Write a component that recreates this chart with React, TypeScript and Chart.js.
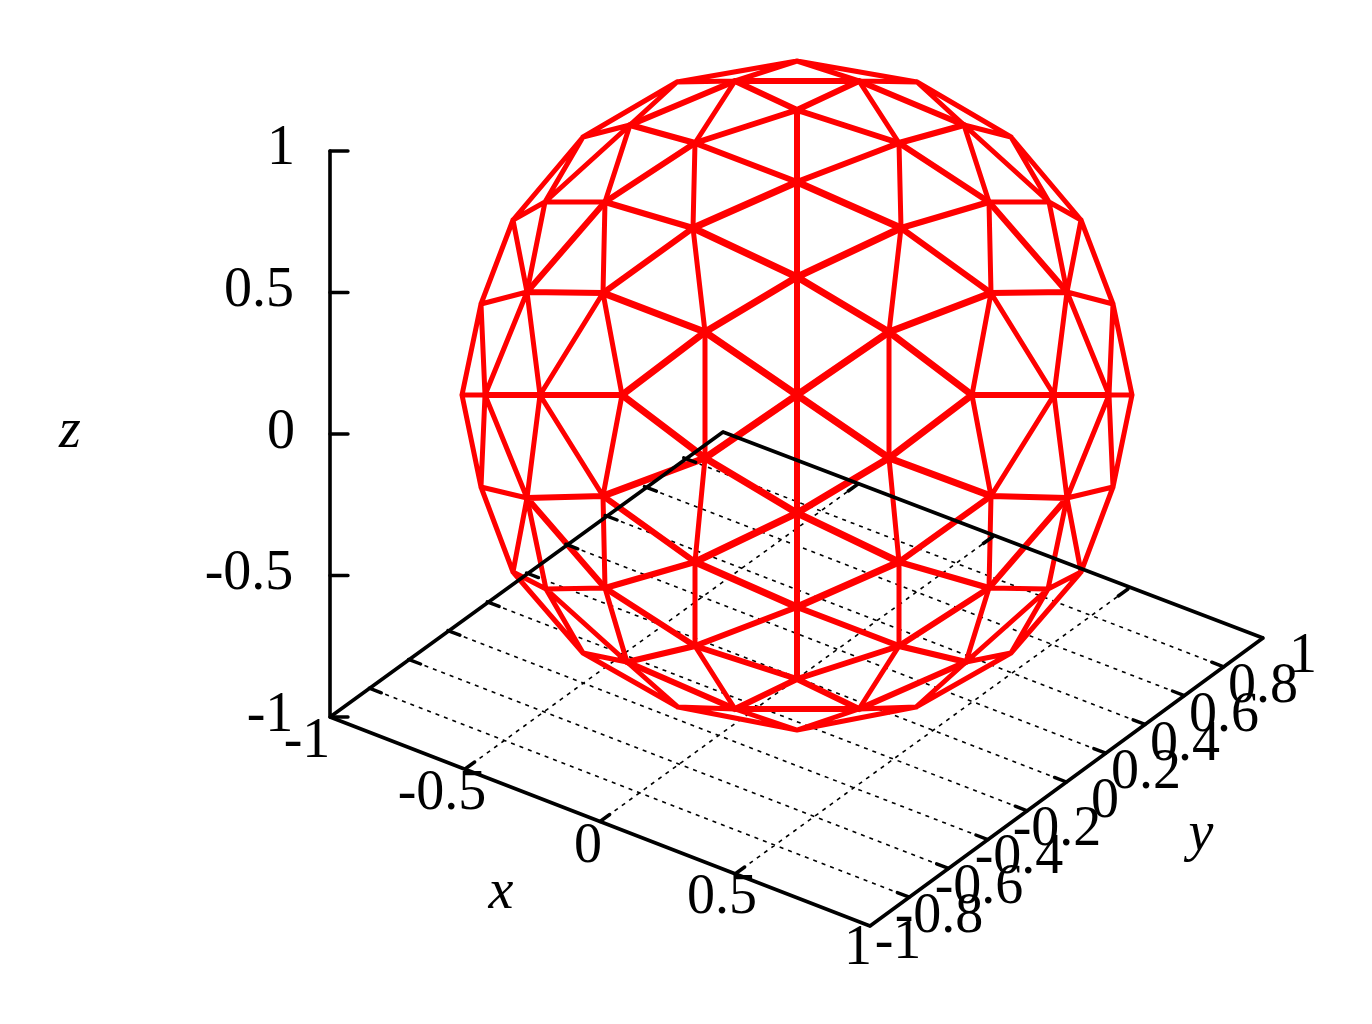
import React, { useEffect, useRef } from "react";
import { Chart, registerables } from "chart.js";

Chart.register(...registerables);

const vertexX = [
  797, 677, 735, 917, 859, 583, 630, 695, 797, 899, 964, 1011, 513, 545, 605, 693, 797, 901, 989, 1049, 1081,
  481, 527, 603, 705, 797, 889, 991, 1067, 1113, 462, 485, 540, 622, 797, 972, 1054, 1109, 1132,
  481, 527, 603, 705, 797, 889, 991, 1067, 1113, 513, 546, 605, 695, 797, 899, 989, 1048, 1081,
  583, 627, 695, 797, 899, 966, 1011, 678, 735, 859, 916, 797,
];
const vertexY = [
  61, 82, 81, 82, 81, 137, 125, 143, 110, 143, 125, 137, 220, 202, 202, 228, 182, 228, 202, 202, 220,
  304, 292, 293, 332, 277, 332, 293, 292, 304, 395, 395, 395, 395, 395, 395, 395, 395, 395,
  487, 498, 496, 458, 513, 458, 496, 498, 487, 572, 589, 588, 562, 607, 562, 588, 589, 572,
  653, 662, 646, 679, 646, 662, 653, 707, 709, 709, 707, 730,
];

const heavyEdges = [
  [15, 16], [15, 25], [23, 24], [24, 25], [24, 33], [24, 34],
  [17, 16], [17, 25], [27, 26], [26, 25], [26, 35], [26, 34],
  [51, 52], [51, 43], [41, 42], [42, 43], [42, 33], [42, 34],
  [53, 52], [53, 43], [45, 44], [44, 43], [44, 35], [44, 34],
];
const mediumEdges = [
  [2, 4], [2, 6], [6, 7], [2, 8], [14, 15], [14, 7], [7, 8], [7, 16], [15, 23], [22, 23], [14, 22], [31, 32], [32, 33], [25, 34], [16, 25], [8, 16],
  [4, 10], [10, 9], [4, 8], [18, 17], [18, 9], [9, 8], [9, 16], [17, 27], [28, 27], [18, 28], [37, 36], [36, 35],
  [65, 66], [65, 58], [58, 59], [65, 60], [50, 51], [50, 59], [59, 60], [59, 52], [51, 41], [40, 41], [50, 40], [34, 43], [43, 52], [52, 60],
  [66, 62], [62, 61], [66, 60], [54, 53], [54, 61], [61, 60], [61, 52], [53, 45], [46, 45], [54, 46],
];
const lightEdges = [
  [0, 1], [0, 2], [1, 2], [1, 5], [1, 6], [2, 7], [5, 6], [5, 12], [5, 13], [6, 13], [6, 14], [12, 13], [12, 21], [12, 22], [13, 14], [13, 22], [14, 23], [7, 15], [21, 22], [21, 30], [21, 31], [22, 31], [22, 32], [23, 32], [23, 33], [24, 15], [30, 31], [24, 42], [26, 44],
  [0, 3], [0, 4], [3, 4], [3, 11], [3, 10], [4, 9], [11, 10], [11, 20], [11, 19], [10, 19], [10, 18], [20, 19], [20, 29], [20, 28], [19, 18], [19, 28], [18, 27], [9, 17], [29, 28], [29, 38], [29, 37], [28, 37], [28, 36], [27, 36], [27, 35], [26, 17], [38, 37],
  [68, 64], [68, 65], [64, 65], [64, 57], [64, 58], [65, 59], [57, 58], [57, 48], [57, 49], [58, 49], [58, 50], [48, 49], [48, 39], [48, 40], [49, 50], [49, 40], [50, 41], [59, 51], [39, 40], [30, 39], [39, 31], [40, 31], [40, 32], [41, 32], [41, 33], [42, 51],
  [68, 67], [68, 66], [67, 66], [67, 63], [67, 62], [66, 61], [63, 62], [63, 56], [63, 55], [62, 55], [62, 54], [56, 55], [56, 47], [56, 46], [55, 54], [55, 46], [54, 45], [61, 53], [47, 46], [38, 47], [47, 37], [46, 37], [46, 36], [45, 36], [45, 35], [44, 53],
];

const axisLines = [
  [330, 151, 330, 717], [330, 717, 870, 926], [870, 926, 1263, 638], [330, 717, 723, 432], [723, 432, 1263, 638],
];
const zTicks = [
  [330, 151, 348, 151], [330, 292.5, 348, 292.5], [330, 434, 348, 434], [330, 575.5, 348, 575.5], [330, 717, 348, 717],
];
const xGrid = [
  [465, 769, 858, 484], [600, 821.5, 993, 536.5], [735, 874, 1128, 589],
];
const yGrid = [
  [909.3, 897.2, 369.3, 688.2], [948.6, 868.4, 408.6, 659.4], [987.9, 839.6, 447.9, 630.6],
  [1027.2, 810.8, 487.2, 601.8], [1066.5, 782, 526.5, 573], [1105.8, 753.2, 565.8, 544.2],
  [1145.1, 724.4, 605.1, 515.4], [1184.4, 695.6, 644.4, 486.6], [1223.7, 666.8, 683.7, 457.8],
];
const gridTicks = [
  [465, 769, 474.7, 762], [858, 484, 848.3, 491], [600, 821.5, 609.7, 814.5], [993, 536.5, 983.3, 543.5], [735, 874, 744.7, 867], [1128, 589, 1118.3, 596],
  [909.3, 897.2, 897.3, 892.6], [369.3, 688.2, 381.3, 692.8], [948.6, 868.4, 936.6, 863.8], [408.6, 659.4, 420.6, 664],
  [987.9, 839.6, 975.9, 835], [447.9, 630.6, 459.9, 635.2], [1027.2, 810.8, 1015.2, 806.2], [487.2, 601.8, 499.2, 606.4],
  [1066.5, 782, 1054.5, 777.4], [526.5, 573, 538.5, 577.6], [1105.8, 753.2, 1093.8, 748.6], [565.8, 544.2, 577.8, 548.8],
  [1145.1, 724.4, 1133.1, 719.8], [605.1, 515.4, 617.1, 520], [1184.4, 695.6, 1172.4, 691], [644.4, 486.6, 656.4, 491.2],
  [1223.7, 666.8, 1211.7, 662.2], [683.7, 457.8, 695.7, 462.4],
];

const tickTexts = ["1", "0.5", "0", "-0.5", "-1", "-1", "-0.5", "0", "0.5", "1", "-1", "-0.8", "-0.6", "-0.4", "-0.2", "0", "0.2", "0.4", "0.6", "0.8", "1"];
const tickTextX = [281, 259, 281, 249, 270, 307, 442, 588, 722, 858, 898, 939, 979, 1019, 1057, 1105, 1146, 1185, 1224, 1263, 1303];
const tickTextY = [164, 306, 448, 589, 731, 757, 809, 862, 913, 964, 958, 932, 903, 873, 845, 817, 788, 760, 731, 702, 672];

const axisTitles = ["x", "y", "z"];
const axisTitleX = [501, 1201, 70];
const axisTitleY = [908, 850, 447];

const edgePoints = (edges: number[][]) =>
  edges.flatMap(([a, b]) => [
    { x: vertexX[a], y: vertexY[a] },
    { x: vertexX[b], y: vertexY[b] },
    { x: NaN, y: NaN },
  ]);
const segmentPoints = (segments: number[][]) =>
  segments.flatMap(([x1, y1, x2, y2]) => [
    { x: x1, y: y1 },
    { x: x2, y: y2 },
    { x: NaN, y: NaN },
  ]);

const textPlugin = {
  id: "plotText",
  afterDatasetsDraw(chart: any) {
    const { ctx, scales } = chart;
    ctx.save();
    ctx.fillStyle = "#000";
    ctx.textAlign = "center";
    ctx.textBaseline = "alphabetic";
    ctx.font = "56px 'Liberation Serif'";
    tickTexts.forEach((t, i) => {
      ctx.fillText(t, scales.x.getPixelForValue(tickTextX[i]), scales.y.getPixelForValue(tickTextY[i]));
    });
    ctx.font = "italic 56px 'Liberation Serif'";
    axisTitles.forEach((t, i) => {
      ctx.fillText(t, scales.x.getPixelForValue(axisTitleX[i]), scales.y.getPixelForValue(axisTitleY[i]));
    });
    ctx.restore();
  },
};

export default function App() {
  const ref = useRef<HTMLCanvasElement>(null);
  useEffect(() => {
    if (!ref.current) return;
    const line = (label: string, data: any[], color: string, width: number, order: number, dash: number[] = []) => ({
      label,
      data,
      order,
      showLine: true,
      borderColor: color,
      borderWidth: width,
      borderDash: dash,
      borderCapStyle: dash.length ? "butt" : "round",
      pointRadius: 0,
      spanGaps: false,
      fill: false,
      tension: 0,
    });
    const chart = new Chart(ref.current, {
      type: "scatter",
      data: {
        datasets: [
          line("grid", segmentPoints([...xGrid, ...yGrid]), "#000", 1.6, 6, [4, 5]),
          line("light edges", edgePoints(lightEdges), "#ff0000", 5, 5),
          line("medium edges", edgePoints(mediumEdges), "#ff0000", 6, 4),
          line("heavy edges", edgePoints(heavyEdges), "#ff0000", 7, 3),
          line("ticks", segmentPoints([...gridTicks, ...zTicks]), "#000", 3.4, 2),
          line("axes", segmentPoints(axisLines), "#000", 3.6, 1),
        ] as any,
      },
      options: {
        animation: false,
        responsive: false,
        events: [],
        layout: { padding: 0 },
        plugins: { legend: { display: false }, tooltip: { enabled: false }, title: { display: false } },
        scales: {
          x: { type: "linear", min: 0, max: 1372, display: false },
          y: { type: "linear", min: 0, max: 1024, reverse: true, display: false },
        },
      },
      plugins: [textPlugin],
    });
    return () => chart.destroy();
  }, []);
  return (
    <div style={{ position: "fixed", left: 0, top: 0, width: 1372, height: 1024, background: "#fff" }}>
      <canvas ref={ref} width={1372} height={1024} style={{ display: "block" }} />
    </div>
  );
}
